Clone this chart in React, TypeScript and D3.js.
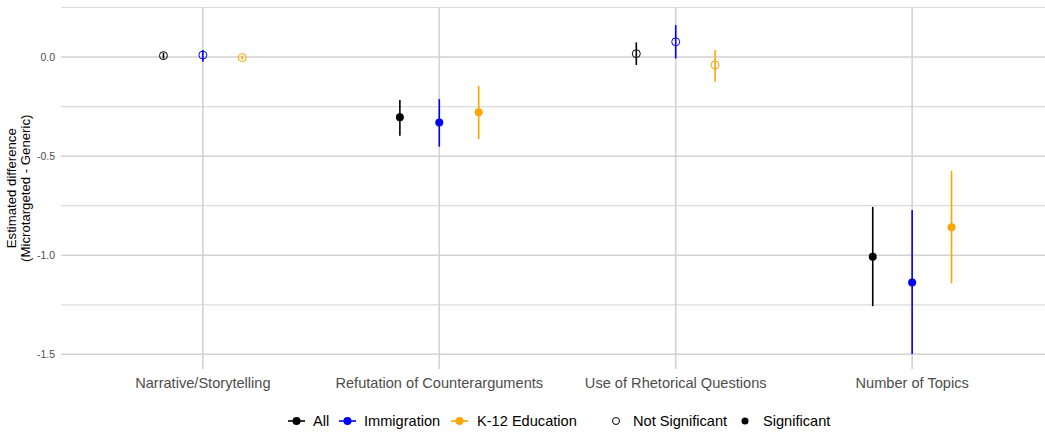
import React from "react";
import * as d3 from "d3";

// Features compared between microtargeted and generic messages
const features = [
  "Narrative/Storytelling",
  "Refutation of Counterarguments",
  "Use of Rhetorical Questions",
  "Number of Topics",
];

// Message subsets and their colours
const groups = ["All", "Immigration", "K-12 Education"];
const groupColors = ["#000000", "#0000FF", "#FFA500"];

// Point estimates, one array per subset, in feature order
const estAll = [0.007, -0.304, 0.017, -1.007];
const estImmigration = [0.01, -0.33, 0.077, -1.137];
const estK12 = [-0.003, -0.279, -0.04, -0.859];

// 95% interval bounds
const lowAll = [-0.008, -0.397, -0.04, -1.257];
const highAll = [0.022, -0.217, 0.074, -0.756];
const lowImmigration = [-0.024, -0.452, -0.007, -1.498];
const highImmigration = [0.035, -0.212, 0.161, -0.772];
const lowK12 = [-0.013, -0.414, -0.125, -1.142];
const highK12 = [0.007, -0.146, 0.035, -0.574];

// Whether the difference is significant, per feature
const significant = [false, true, false, true];

// Axis breaks
const yMajorTicks = [0, -0.5, -1.0, -1.5];
const yMinorTicks = [0.25, -0.25, -0.75, -1.25];

const FONT = "'Liberation Sans', Arial, Helvetica, sans-serif";

type Row = {
  feature: string;
  fi: number;
  group: string;
  gi: number;
  est: number;
  low: number;
  high: number;
  sig: boolean;
};

const rows: Row[] = [];
const ests = [estAll, estImmigration, estK12];
const lows = [lowAll, lowImmigration, lowK12];
const highs = [highAll, highImmigration, highK12];
features.forEach((f, fi) => {
  groups.forEach((g, gi) => {
    rows.push({
      feature: f,
      fi,
      group: g,
      gi,
      est: ests[gi][fi],
      low: lows[gi][fi],
      high: highs[gi][fi],
      sig: significant[fi],
    });
  });
});

export default function App() {
  const W = 1045;
  const H = 434;
  const panelLeft = 61;
  const panelRight = 1054;
  const panelTop = 7.5;
  const panelBottom = 369;

  // discrete x with ggplot-style 0.6 expansion on each side
  const x = d3
    .scaleLinear()
    .domain([0.4, features.length + 0.6])
    .range([panelLeft, panelRight]);
  const dodge = d3.scaleLinear().domain([0, 2]).range([-1 / 6, 1 / 6]);

  const y = d3.scaleLinear().domain([-1.574, 0.25]).range([panelBottom, panelTop]);

  const r = 4;

  // legend layout
  const legendY = 421;
  const colorKeys = [
    { label: groups[0], color: groupColors[0], keyX: 288, textX: 313 },
    { label: groups[1], color: groupColors[1], keyX: 339, textX: 364 },
    { label: groups[2], color: groupColors[2], keyX: 451, textX: 477 },
  ];

  return (
    <div style={{ position: "absolute", left: 0, top: 0 }}>
      <svg width={W} height={H} style={{ display: "block", background: "#fff" }}>
        {/* minor horizontal grid */}
        {yMinorTicks.map((t) => (
          <line
            key={"mn" + t}
            x1={panelLeft}
            x2={panelRight}
            y1={y(t)}
            y2={y(t)}
            stroke="#dcdcdc"
            strokeWidth={1.2}
          />
        ))}
        {/* major horizontal grid */}
        {yMajorTicks.map((t) => (
          <line
            key={"mj" + t}
            x1={panelLeft}
            x2={panelRight}
            y1={y(t)}
            y2={y(t)}
            stroke="#d2d2d2"
            strokeWidth={1.5}
          />
        ))}
        {/* vertical grid at each feature */}
        {features.map((f, i) => (
          <line
            key={"vx" + f}
            x1={x(i + 1)}
            x2={x(i + 1)}
            y1={panelTop}
            y2={panelBottom}
            stroke="#d2d2d2"
            strokeWidth={1.6}
          />
        ))}

        {/* y tick labels */}
        {yMajorTicks.map((t) => (
          <text
            key={"yl" + t}
            x={55}
            y={y(t)}
            dy="0.35em"
            textAnchor="end"
            fontFamily={FONT}
            fontSize={10.5}
            fill="#4d4d4d"
          >
            {d3.format(".1f")(t).replace("−", "-")}
          </text>
        ))}

        {/* y title */}
        <text
          transform={`translate(16, ${(panelTop + panelBottom) / 2}) rotate(-90)`}
          textAnchor="middle"
          fontFamily={FONT}
          fontSize={13.2}
          fill="#000"
        >
          <tspan x={0} dy="0">Estimated difference</tspan>
          <tspan x={0} dy="1.05em">(Microtargeted - Generic)</tspan>
        </text>

        {/* x tick labels */}
        {features.map((f, i) => (
          <text
            key={"xl" + f}
            x={x(i + 1)}
            y={383}
            dy="0.35em"
            textAnchor="middle"
            fontFamily={FONT}
            fontSize={14.6}
            fill="#4d4d4d"
          >
            {f}
          </text>
        ))}

        {/* interval lines and points */}
        {rows.map((d) => {
          const cx = x(d.fi + 1 + dodge(d.gi));
          const color = groupColors[d.gi];
          return (
            <g key={d.feature + d.group}>
              <line
                x1={cx}
                x2={cx}
                y1={y(d.low)}
                y2={y(d.high)}
                stroke={color}
                strokeWidth={1.6}
              />
              {d.sig ? (
                <circle cx={cx} cy={y(d.est)} r={r} fill={color} />
              ) : (
                <circle
                  cx={cx}
                  cy={y(d.est)}
                  r={r}
                  fill="none"
                  stroke={color}
                  strokeWidth={1}
                />
              )}
            </g>
          );
        })}

        {/* legend: subsets */}
        {colorKeys.map((k) => (
          <g key={"lg" + k.label}>
            <line
              x1={k.keyX}
              x2={k.keyX + 17}
              y1={legendY}
              y2={legendY}
              stroke={k.color}
              strokeWidth={1.6}
            />
            <circle cx={k.keyX + 8.5} cy={legendY} r={4} fill={k.color} />
            <text
              x={k.textX}
              y={legendY}
              dy="0.35em"
              fontFamily={FONT}
              fontSize={14.6}
              fill="#000"
            >
              {k.label}
            </text>
          </g>
        ))}

        {/* legend: significance */}
        <circle cx={616} cy={legendY} r={3.5} fill="none" stroke="#000" strokeWidth={1} />
        <text x={633} y={legendY} dy="0.35em" fontFamily={FONT} fontSize={14.6} fill="#000">
          Not Significant
        </text>
        <circle cx={745} cy={legendY} r={3.5} fill="#000" />
        <text x={763} y={legendY} dy="0.35em" fontFamily={FONT} fontSize={14.6} fill="#000">
          Significant
        </text>
      </svg>
    </div>
  );
}
